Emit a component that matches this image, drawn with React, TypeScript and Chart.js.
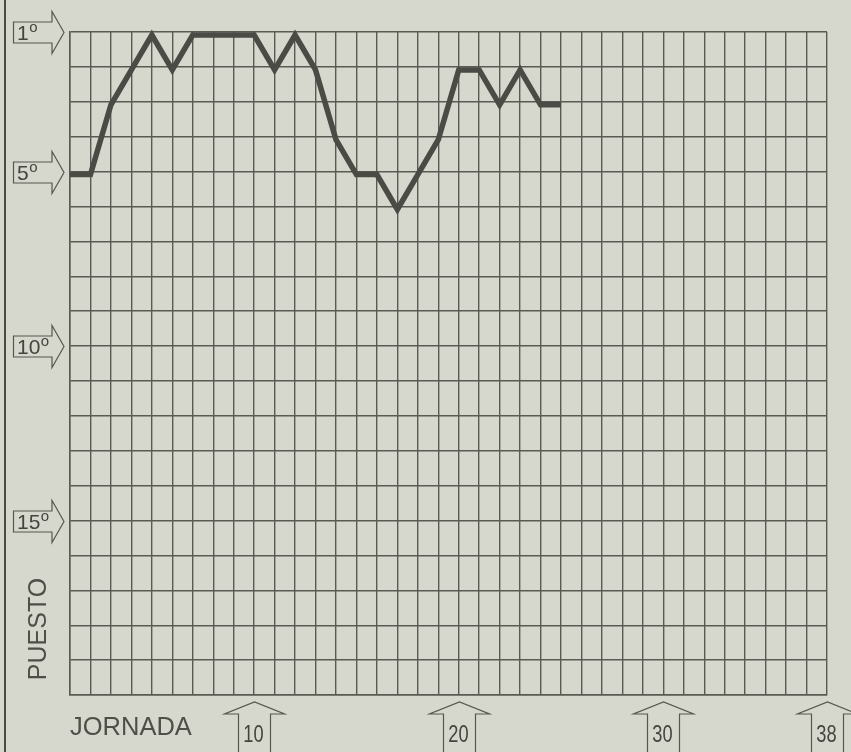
import React, { useEffect, useRef } from "react";
import { Chart, registerables } from "chart.js";

Chart.register(...registerables);

// Data
const jornadas = [1, 2, 3, 4, 5, 6, 7, 8, 9, 10, 11, 12, 13, 14, 15, 16, 17, 18, 19, 20, 21, 22, 23, 24, 25];
const puestos = [5, 5, 3, 2, 1, 2, 1, 1, 1, 1, 2, 1, 2, 4, 5, 5, 6, 5, 4, 2, 2, 3, 2, 3, 3];

const yTickValues = [1, 5, 10, 15];
const yTickLabels = ["1º", "5º", "10º", "15º"];
const xTickValues = [10, 20, 30, 38];
const xTickLabels = ["10", "20", "30", "38"];

const xTitle = "JORNADA";
const yTitle = "PUESTO";

const BG = "#d6d7cd";
const INK = "#575752";
const LINE = "#4b4b46";
const FONT = "'Liberation Sans', Arial, Helvetica, sans-serif";

const decorPlugin = {
  id: "decor",
  beforeDraw(chart: any) {
    const ctx = chart.ctx;
    ctx.save();
    ctx.fillStyle = BG;
    ctx.fillRect(0, 0, chart.width, chart.height);
    ctx.restore();
  },
  beforeDatasetsDraw(chart: any) {
    chart.ctx.save();
    chart.ctx.translate(0, 3);
  },
  afterDatasetsDraw(chart: any) {
    chart.ctx.restore();
  },
  afterDraw(chart: any) {
    const ctx = chart.ctx;
    const xs = chart.scales.x;
    const ys = chart.scales.y;
    const area = chart.chartArea;
    ctx.save();
    // left border line
    ctx.strokeStyle = "#4a4a45";
    ctx.lineWidth = 2;
    ctx.beginPath();
    ctx.moveTo(5, 0);
    ctx.lineTo(5, chart.height);
    ctx.stroke();

    // left arrows
    ctx.lineWidth = 1.2;
    yTickValues.forEach((v, i) => {
      const y = Math.round(ys.getPixelForValue(v)) + 0.5;
      const tip = area.left - 6;
      const hb = tip - 12;
      ctx.strokeStyle = INK;
      ctx.beginPath();
      ctx.moveTo(13.5, y - 10.5);
      ctx.lineTo(hb, y - 10.5);
      ctx.lineTo(hb, y - 21);
      ctx.lineTo(tip, y);
      ctx.lineTo(hb, y + 21);
      ctx.lineTo(hb, y + 10.5);
      ctx.lineTo(13.5, y + 10.5);
      ctx.closePath();
      ctx.stroke();
      const label = yTickLabels[i];
      const num = label.replace("º", "");
      ctx.fillStyle = "#454540";
      ctx.font = `21px ${FONT}`;
      ctx.textBaseline = "alphabetic";
      ctx.textAlign = "left";
      ctx.fillText(num, 17, y + 7.5);
      const w = ctx.measureText(num).width;
      if (label.includes("º")) {
        ctx.font = `15px ${FONT}`;
        ctx.fillText("o", 17 + w + 0.5, y - 0.5);
      }
    });

    // bottom arrows
    xTickValues.forEach((v, i) => {
      const x = Math.round(xs.getPixelForValue(v)) + 0.5;
      const tipY = area.bottom + 7;
      const hb = tipY + 12;
      ctx.strokeStyle = INK;
      ctx.beginPath();
      ctx.moveTo(x - 16, chart.height + 2);
      ctx.lineTo(x - 16, hb);
      ctx.lineTo(x - 30, hb);
      ctx.lineTo(x, tipY);
      ctx.lineTo(x + 30, hb);
      ctx.lineTo(x + 16, hb);
      ctx.lineTo(x + 16, chart.height + 2);
      ctx.stroke();
      ctx.save();
      ctx.fillStyle = "#454540";
      ctx.font = `24px ${FONT}`;
      ctx.textAlign = "center";
      ctx.textBaseline = "alphabetic";
      ctx.translate(x - 1, 742);
      ctx.scale(0.76, 1);
      ctx.fillText(xTickLabels[i], 0, 0);
      ctx.restore();
    });

    // titles
    ctx.fillStyle = "#4f4f4a";
    ctx.font = `25.5px ${FONT}`;
    ctx.textAlign = "left";
    ctx.textBaseline = "alphabetic";
    ctx.fillText(xTitle, area.left, 735);

    ctx.save();
    ctx.translate(46, 629);
    ctx.rotate(-Math.PI / 2);
    ctx.textAlign = "center";
    ctx.font = `25px ${FONT}`;
    ctx.fillText(yTitle, 0, 0);
    ctx.restore();

    ctx.restore();
  },
};

export default function App() {
  const ref = useRef<HTMLCanvasElement | null>(null);
  useEffect(() => {
    const canvas = ref.current;
    if (!canvas) return;
    const chart = new Chart(canvas, {
      type: "line",
      data: {
        datasets: [
          {
            data: jornadas.map((j, i) => ({ x: j, y: puestos[i] })),
            borderColor: LINE,
            borderWidth: 5.5,
            pointRadius: 0,
            tension: 0,
            borderJoinStyle: "miter",
            borderCapStyle: "butt",
            clip: false,
          } as any,
        ],
      },
      options: {
        responsive: false,
        animation: false,
        devicePixelRatio: 1,
        layout: { padding: { left: 70, right: 24, top: 32, bottom: 57 } },
        plugins: { legend: { display: false }, tooltip: { enabled: false } },
        scales: {
          x: {
            type: "linear",
            min: 1,
            max: 38,
            ticks: { display: false, stepSize: 1 },
            grid: { color: "#5a5a55", lineWidth: 1.4, drawTicks: false },
            border: { display: true, color: "#5a5a55", width: 1.5 },
            afterFit: (s: any) => {
              s.height = 0;
            },
          },
          y: {
            type: "linear",
            reverse: true,
            min: 1,
            max: 20,
            ticks: { display: false, stepSize: 1 },
            grid: { color: "#5a5a55", lineWidth: 1.4, drawTicks: false },
            border: { display: true, color: "#5a5a55", width: 1.5 },
            afterFit: (s: any) => {
              s.width = 0;
            },
          },
        },
      } as any,
      plugins: [decorPlugin],
    });
    return () => chart.destroy();
  }, []);
  return (
    <div style={{ position: "fixed", left: 0, top: 0, width: 851, height: 752, background: BG }}>
      <canvas ref={ref} width={851} height={752} style={{ display: "block" }} />
    </div>
  );
}
